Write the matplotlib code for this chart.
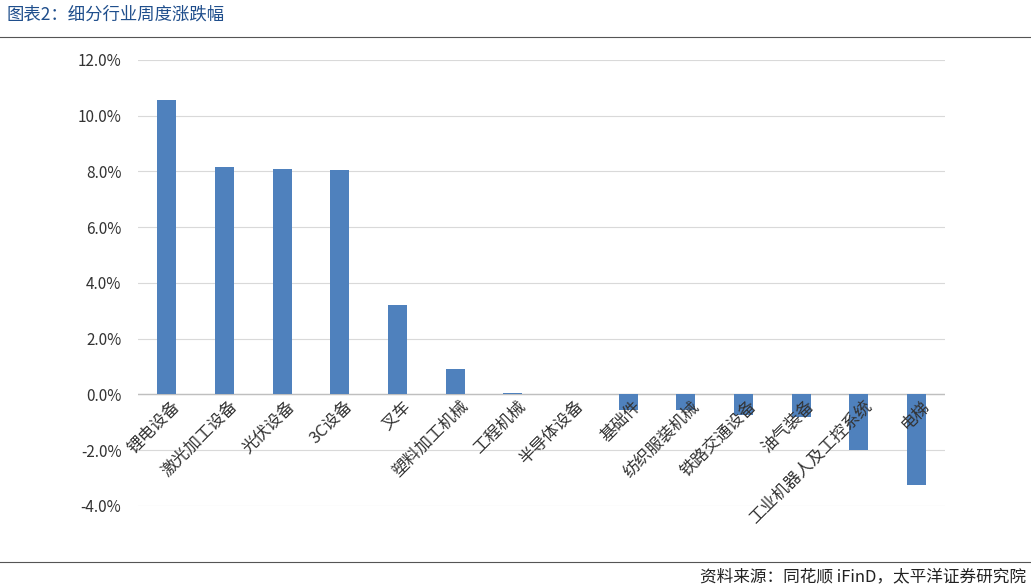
import matplotlib.pyplot as plt
import numpy as np
from matplotlib.ticker import FuncFormatter
from matplotlib.lines import Line2D

plt.rcParams['font.family'] = ['Noto Sans CJK SC', 'DejaVu Sans']

industries = ['锂电设备', '激光加工设备', '光伏设备', '3C设备', '叉车', '塑料加工机械', '工程机械',
              '半导体设备', '基础件', '纺织服装机械', '铁路交通设备', '油气装备', '工业机器人及工控系统', '电梯']
changes = [10.55, 8.15, 8.10, 8.05, 3.22, 0.93, 0.05, 0.0, -0.54, -0.57, -0.75, -0.82, -2.0, -3.26]

fig = plt.figure(figsize=(10.31, 5.87), dpi=100)
ax = fig.add_axes([0.134, 0.138, 0.783, 0.76])

x = np.arange(len(industries))
ax.bar(x, changes, width=0.33, color='#4f81bd', zorder=3)
ax.set_ylim(-4, 12)
ax.set_xlim(-0.5, len(industries) - 0.5)
ax.set_yticks(np.arange(-4, 12.1, 2))
ax.yaxis.set_major_formatter(FuncFormatter(lambda v, p: f'{v:.1f}%'))
ax.tick_params(axis='y', length=0, labelsize=11, colors='#333333', pad=12)
ax.set_xticks([])
ax.grid(axis='y', color='#d9d9d9', linewidth=0.8, zorder=0)
for s in ax.spines.values():
    s.set_visible(False)
ax.axhline(0, color='#bfbfbf', linewidth=1, zorder=2)

for xi, name in zip(x, industries):
    ax.text(xi + 0.08, -0.12, name, rotation=45, ha='right', va='top',
            rotation_mode='anchor', fontsize=12, color='#333333', zorder=4)

fig.text(0.006, 0.975, '图表2：细分行业周度涨跌幅', fontsize=12.5, color='#1f4e8c', va='center')
fig.add_artist(Line2D([0.0, 1.0], [0.937, 0.937], color='#555555', linewidth=0.8))
fig.add_artist(Line2D([0.0, 1.0], [0.042, 0.042], color='#555555', linewidth=0.8))
fig.text(0.995, 0.018, '资料来源：同花顺 iFinD，太平洋证券研究院', fontsize=12, style='italic',
         ha='right', va='center', color='#222222')

fig.savefig('out.png', dpi=100)
